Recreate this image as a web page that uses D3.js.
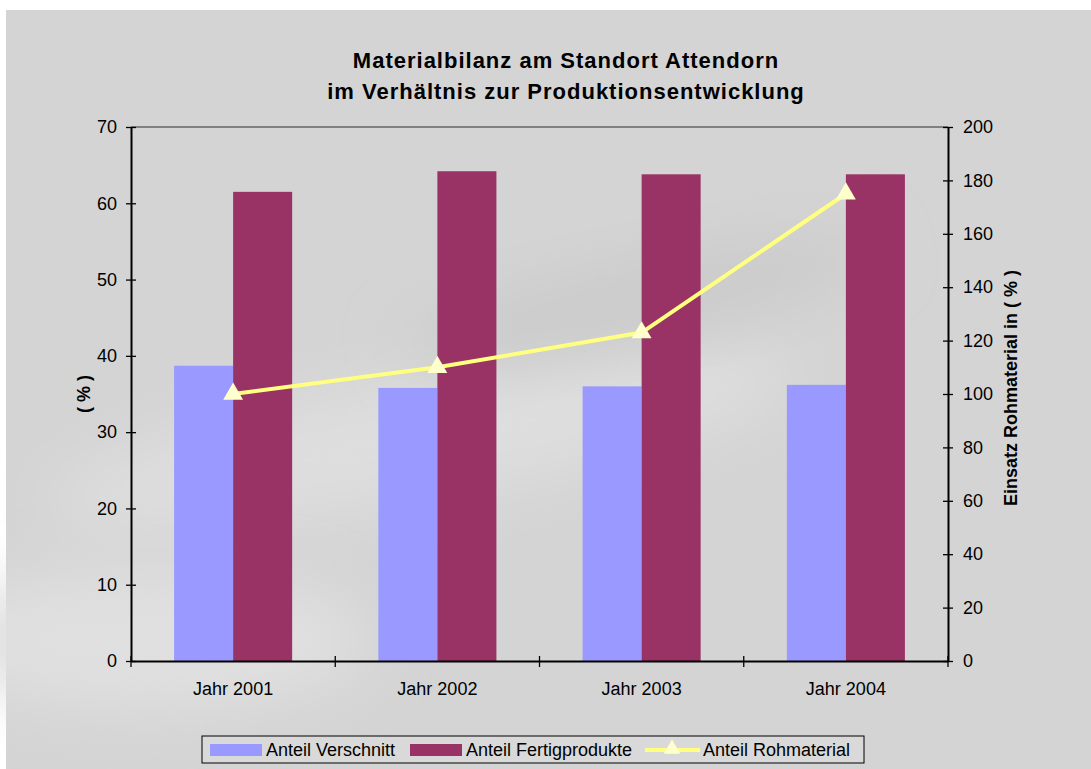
<!DOCTYPE html>
<html>
<head>
<meta charset="utf-8">
<script src="https://cdn.jsdelivr.net/npm/d3@7"></script>
<style>
  body { margin: 0; background: #ffffff; }
  svg text { font-family: "Liberation Sans", Arial, sans-serif; fill: #000; }
</style>
</head>
<body>
<div id="chart"></div>
<script>
// chart data
var years = ["Jahr 2001", "Jahr 2002", "Jahr 2003", "Jahr 2004"];
var verschnitt = [38.7, 35.8, 36.0, 36.2];
var fertigprodukte = [61.5, 64.2, 63.8, 63.8];
var rohmaterial = [100, 110, 123, 175];
var seriesNames = ["Anteil Verschnitt", "Anteil Fertigprodukte", "Anteil Rohmaterial"];
var leftTicks = [0, 10, 20, 30, 40, 50, 60, 70];
var rightTicks = [0, 20, 40, 60, 80, 100, 120, 140, 160, 180, 200];

var svgWidth = 1091;
var svgHeight = 769;

var margin = { top: 127, right: 143, bottom: 108, left: 131 };
var chartWidth = svgWidth - margin.left - margin.right;
var chartHeight = svgHeight - margin.top - margin.bottom;

var svg = d3.select("#chart")
  .append("svg")
  .attr("width", svgWidth)
  .attr("height", svgHeight);

// background panel with a soft blurred "car" shape
var defs = svg.append("defs");
defs.append("filter").attr("id", "blur")
  .attr("x", "-50%").attr("y", "-50%").attr("width", "200%").attr("height", "200%")
  .append("feGaussianBlur").attr("stdDeviation", 30);

var bg = svg.append("g");
bg.append("rect")
  .attr("x", 6).attr("y", 10)
  .attr("width", svgWidth - 6).attr("height", svgHeight - 10)
  .attr("fill", "#d4d4d4");
bg.append("ellipse")
  .attr("cx", 420).attr("cy", 440).attr("rx", 380).attr("ry", 60)
  .attr("fill", "#dedede").attr("filter", "url(#blur)")
  .attr("transform", "rotate(-10 420 440)");
bg.append("ellipse")
  .attr("cx", 150).attr("cy", 640).attr("rx", 220).attr("ry", 70)
  .attr("fill", "#e0e0e0").attr("filter", "url(#blur)");
bg.append("ellipse")
  .attr("cx", 640).attr("cy", 300).attr("rx", 240).attr("ry", 40)
  .attr("fill", "#cbcbcb").attr("filter", "url(#blur)")
  .attr("transform", "rotate(-12 640 300)");

var chartGroup = svg.append("g")
  .attr("transform", `translate(${margin.left}, ${margin.top})`);

// scales
var x0 = d3.scaleBand()
  .domain(years)
  .range([0, chartWidth])
  .padding(0);

var x1 = d3.scaleBand()
  .domain([0, 1])
  .range([0, x0.bandwidth()])
  .paddingOuter(0.73)
  .paddingInner(0);

var yLeft = d3.scaleLinear().domain([0, 70]).range([chartHeight, 0]);
var yRight = d3.scaleLinear().domain([0, 200]).range([chartHeight, 0]);

// top border of plot area
chartGroup.append("line")
  .attr("x1", 0).attr("x2", chartWidth)
  .attr("y1", 0).attr("y2", 0)
  .attr("stroke", "#808080").attr("stroke-width", 2);

// bars
var barData = [];
years.forEach(function(yr, i) {
  barData.push({ year: yr, s: 0, value: verschnitt[i] });
  barData.push({ year: yr, s: 1, value: fertigprodukte[i] });
});
var barColors = ["#9999ff", "#993366"];

chartGroup.selectAll("rect.bar")
  .data(barData)
  .enter()
  .append("rect")
  .attr("class", "bar")
  .attr("x", d => x0(d.year) + x1(d.s))
  .attr("y", d => yLeft(d.value))
  .attr("width", x1.bandwidth())
  .attr("height", d => chartHeight - yLeft(d.value))
  .attr("fill", d => barColors[d.s]);

// left axis with cross ticks
var leftAxis = chartGroup.append("g")
  .call(d3.axisLeft(yLeft).tickValues(leftTicks).tickSize(5).tickPadding(9).tickSizeOuter(0));
leftAxis.select(".domain").attr("stroke", "#000").attr("stroke-width", 2);
leftAxis.selectAll(".tick line").attr("x1", 5).attr("stroke", "#000").attr("stroke-width", 1.3);
leftAxis.selectAll("text").style("font-size", "18px");

// right axis
var rightAxis = chartGroup.append("g")
  .attr("transform", `translate(${chartWidth}, 0)`)
  .call(d3.axisRight(yRight).tickValues(rightTicks).tickSize(5).tickPadding(10).tickSizeOuter(0));
rightAxis.select(".domain").attr("stroke", "#000").attr("stroke-width", 2);
rightAxis.selectAll(".tick line").attr("x1", -5).attr("stroke", "#000").attr("stroke-width", 1.3);
rightAxis.selectAll("text").style("font-size", "18px");

// bottom axis: labels at band centers, ticks at band edges
var bottomAxis = chartGroup.append("g")
  .attr("transform", `translate(0, ${chartHeight})`)
  .call(d3.axisBottom(x0).tickSize(0).tickPadding(21).tickSizeOuter(0));
bottomAxis.select(".domain").attr("stroke", "#000").attr("stroke-width", 2);
bottomAxis.selectAll("text").style("font-size", "18px");

var edges = years.map(d => x0(d)).concat([chartWidth]);
bottomAxis.selectAll("line.edge")
  .data(edges)
  .enter()
  .append("line")
  .attr("class", "edge")
  .attr("x1", d => d).attr("x2", d => d)
  .attr("y1", -5).attr("y2", 6)
  .attr("stroke", "#000").attr("stroke-width", 1.3);

// line series on right axis
var lineGen = d3.line()
  .x((d, i) => x0(years[i]) + x0.bandwidth() / 2)
  .y(d => yRight(d));

chartGroup.append("path")
  .datum(rohmaterial)
  .attr("d", lineGen)
  .attr("fill", "none")
  .attr("stroke", "#ffff80")
  .attr("stroke-width", 4);

var tri = d3.symbol().type(d3.symbolTriangle).size(170);
chartGroup.selectAll("path.marker")
  .data(rohmaterial)
  .enter()
  .append("path")
  .attr("class", "marker")
  .attr("d", tri)
  .attr("transform", (d, i) => `translate(${x0(years[i]) + x0.bandwidth() / 2}, ${yRight(d)})`)
  .attr("fill", "#ffffcc");

// title
var title = svg.append("text")
  .attr("text-anchor", "middle")
  .style("font-size", "22px")
  .style("font-weight", "bold")
  .style("letter-spacing", "1px");
title.append("tspan").attr("x", 566).attr("y", 68).text("Materialbilanz am Standort Attendorn");
title.append("tspan").attr("x", 566).attr("y", 99).text("im Verhältnis zur Produktionsentwicklung");

// axis titles
svg.append("text")
  .attr("transform", "translate(90, 394) rotate(-90)")
  .attr("text-anchor", "middle")
  .style("font-size", "18px")
  .style("font-weight", "bold")
  .text("( % )");

svg.append("text")
  .attr("transform", "translate(1017, 388) rotate(-90)")
  .attr("text-anchor", "middle")
  .style("font-size", "18px")
  .style("font-weight", "bold")
  .text("Einsatz Rohmaterial in ( % )");

// legend
var legend = svg.append("g").attr("transform", "translate(202, 736)");
legend.append("rect")
  .attr("width", 662).attr("height", 27)
  .attr("fill", "#d9d9d9")
  .attr("stroke", "#000").attr("stroke-width", 1);

var legendX = [8, 208, 443];
var legendItems = legend.selectAll("g.item")
  .data(seriesNames)
  .enter()
  .append("g")
  .attr("class", "item")
  .attr("transform", (d, i) => `translate(${legendX[i]}, 0)`);

legendItems.filter((d, i) => i < 2)
  .append("rect")
  .attr("x", 0).attr("y", 8)
  .attr("width", 52).attr("height", 12)
  .attr("fill", (d, i) => barColors[i]);

var lineItem = legendItems.filter((d, i) => i === 2);
lineItem.append("line")
  .attr("x1", 0).attr("x2", 55).attr("y1", 14).attr("y2", 14)
  .attr("stroke", "#ffff80").attr("stroke-width", 4);
lineItem.append("path")
  .attr("d", d3.symbol().type(d3.symbolTriangle).size(120))
  .attr("transform", "translate(27, 13)")
  .attr("fill", "#ffffcc");

legendItems.append("text")
  .attr("x", (d, i) => i === 2 ? 58 : 56)
  .attr("y", 20)
  .style("font-size", "18px")
  .text(d => d);
</script>
</body>
</html>
